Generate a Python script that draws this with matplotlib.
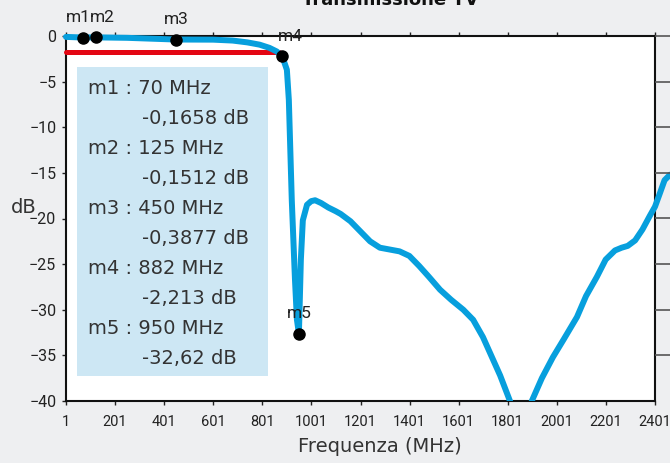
import matplotlib
matplotlib.use("Agg")
import matplotlib.pyplot as plt
from matplotlib.patches import Rectangle
from matplotlib.transforms import TransformedBbox, Bbox

# curve (MHz, dB)
freq = [1, 70, 125, 250, 450, 600, 680, 740, 790, 830, 860, 882, 901, 909, 921,
        934, 942, 950, 954, 958, 966, 983, 1000, 1016, 1040, 1070, 1100,
        1120, 1160, 1200, 1240, 1280, 1320, 1360, 1400, 1440, 1480, 1525, 1570,
        1620, 1660, 1700, 1730, 1770, 1810, 1850, 1870, 1899, 1940, 1985, 2030,
        2083, 2120, 2164, 2200, 2238, 2265, 2290, 2320, 2350, 2380, 2401, 2420,
        2440, 2462]
trans_db = [-0.10, -0.1658, -0.1512, -0.2, -0.3877, -0.4, -0.5, -0.7, -0.95, -1.3,
            -1.7, -2.213, -3.7, -7.0, -18.0, -26.7, -31.1, -32.62, -28.6, -24.5,
            -20.2, -18.5, -18.1, -18.0, -18.3, -18.8, -19.2, -19.5, -20.3, -21.4,
            -22.5, -23.2, -23.4, -23.6, -24.1, -25.2, -26.4, -27.8, -28.9, -30.0,
            -31.1, -33.0, -34.8, -37.2, -40.0, -43.5, -43.5, -40, -37.5, -35.2,
            -33.2, -30.8, -28.5, -26.4, -24.5, -23.5, -23.2, -23.0, -22.4, -21.2,
            -19.7, -18.7, -17.3, -15.8, -15.2]

# markers
mk_names = ["m1", "m2", "m3", "m4", "m5"]
mk_freq = [70, 125, 450, 882, 950]
mk_db = [-0.1658, -0.1512, -0.3877, -2.213, -32.62]

# limit line
limit_freq = [1, 870]
limit_db = [-1.7, -1.7]

xticks = list(range(1, 2402, 200))
yticks = list(range(0, -41, -5))

BG = "#eeeff1"
BLUE = "#079fdd"
TXT = "#333333"

fig = plt.figure(figsize=(6.7, 4.63), dpi=100, facecolor=BG)
ax = fig.add_axes([66 / 670, 1 - 401 / 463, 589 / 670, 365 / 463])
ax.set_facecolor("white")
ax.set_xlim(1, 2401)
ax.set_ylim(-40, 0)

# marker readout box
ax.add_patch(Rectangle((0.0187, 0.0685), 0.324, 0.847, transform=ax.transAxes,
                       facecolor="#cde7f4", edgecolor="none", zorder=1))
line_h = 30 / 365
for i, (n, f, d) in enumerate(zip(mk_names, mk_freq, mk_db)):
    y0 = 0.855 - 2 * i * line_h
    ax.text(0.037, y0, f"{n} : {f} MHz", transform=ax.transAxes, fontsize=14,
            color=TXT, va="center", zorder=2)
    ax.text(0.129, y0 - line_h, f"{d:.4g} dB".replace(".", ","),
            transform=ax.transAxes, fontsize=14, color=TXT, va="center", zorder=2)

ax.plot(limit_freq, limit_db, color="#e30613", lw=3.6, solid_capstyle="round",
        zorder=3, clip_on=False)
curve, = ax.plot(freq, trans_db, color=BLUE, lw=4.3, solid_capstyle="round",
                 solid_joinstyle="round", zorder=4)
curve.set_clip_box(TransformedBbox(Bbox([[-0.1, 0], [1.2, 1.2]]), ax.transAxes))
ax.plot(mk_freq, mk_db, "o", color="black", ms=8, zorder=5, clip_on=False)

label_dx = {"m1": -3, "m2": 4, "m4": 6}
for n, f, d in zip(mk_names, mk_freq, mk_db):
    ax.annotate(n, (f, d), xytext=(label_dx.get(n, 0), 9), textcoords="offset points",
                ha="center", va="bottom", fontsize=12.5, family="Roboto",
                color="#222222", annotation_clip=False, zorder=6)

ax.set_xticks(xticks)
ax.set_yticks(yticks)
ax.tick_params(axis="both", labelsize=11.5, colors="#222222", length=3,
               width=1, direction="out")
ax.tick_params(axis="x", top=True, pad=7, labelsize=10.5)
ax.tick_params(axis="y", pad=4)
for lab in ax.get_xticklabels() + ax.get_yticklabels():
    lab.set_family("Roboto")
for s in ax.spines.values():
    s.set_linewidth(1.5)
    s.set_color("#111111")

# ticks of the neighbouring panel on the right
axr = ax.twinx()
axr.set_ylim(-40, 0)
axr.set_yticks(list(range(0, -36, -5)))
axr.set_yticklabels([])
axr.tick_params(axis="y", length=12, width=1.2, color="#555555", direction="out")
for s in axr.spines.values():
    s.set_visible(False)

ax.set_xlabel("Frequenza (MHz)", fontsize=14, color=TXT)
ax.xaxis.set_label_coords(0.533, -0.1)
ax.set_ylabel("dB", fontsize=14, color=TXT, rotation=0, va="center", ha="center")
ax.yaxis.set_label_coords(-0.072, 0.53)

fig.text(0.582, 1.0, "Transmissione TV", ha="center", va="center",
         fontsize=13, fontweight="bold", color="#111111")

fig.savefig("out.png", dpi=100, facecolor=BG)
